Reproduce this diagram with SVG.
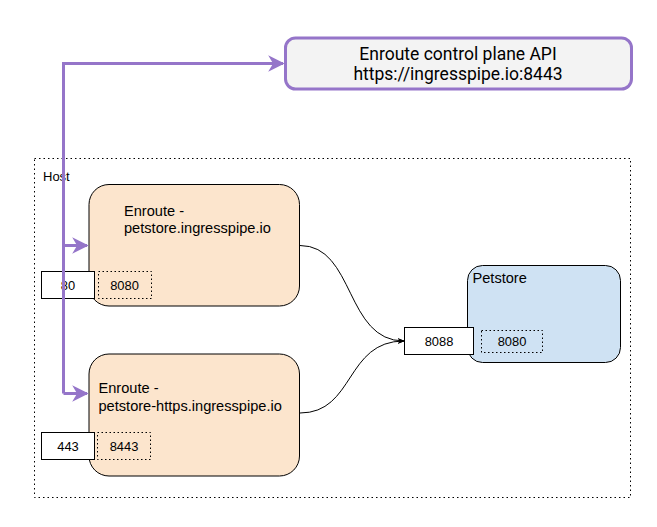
<svg xmlns="http://www.w3.org/2000/svg" width="657" height="527" viewBox="0 0 657 527">
<defs>
<style>
.lbl{font-family:"Liberation Sans",Arial,sans-serif;fill:#000;}
.port{fill:#fff;stroke:#000;stroke-width:1;}
.dport{fill:none;stroke:#000;stroke-width:1;stroke-dasharray:1.5 2.5;}
.pt{font-family:"Liberation Sans",Arial,sans-serif;font-size:12.9px;text-anchor:middle;fill:#000;}
.purple{fill:none;stroke:#9575c9;stroke-width:3;}
.curve{fill:none;stroke:#000;stroke-width:1;}
</style>
<marker id="pa" viewBox="0 0 10 10" refX="9" refY="5" markerWidth="5.5" markerHeight="5.5" orient="auto" markerUnits="strokeWidth">
<path d="M0,0 L10,5 L0,10 L3,5 Z" fill="#9575c9"/>
</marker>
<marker id="ba" viewBox="0 0 10 10" refX="9" refY="5" markerWidth="7" markerHeight="7" orient="auto" markerUnits="strokeWidth">
<path d="M0,1 L10,5 L0,9 L3,5 Z" fill="#000"/>
</marker>
</defs>
<rect width="657" height="527" fill="#fff"/>
<g id="host">
<rect x="34.5" y="158.5" width="596" height="339" fill="none" stroke="#000" stroke-width="1" stroke-dasharray="1.5 3"/>
<text class="lbl" x="43" y="181" font-size="13">Host</text>
</g>
<g id="api">
<rect x="285.5" y="38" width="346" height="51" rx="10" fill="#f3f3f3" stroke="#9575c9" stroke-width="3"/>
<text x="458" y="59.5" font-family="Roboto,'Liberation Sans',sans-serif" font-size="17.5" text-anchor="middle" fill="#000">Enroute control plane API</text>
<text x="458" y="80" font-family="Roboto,'Liberation Sans',sans-serif" font-size="17.5" text-anchor="middle" fill="#000">https://ingresspipe.io:8443</text>
</g>
<g id="enroute1">
<rect x="89" y="184.5" width="210.5" height="121.5" rx="20" fill="#fce5cd" stroke="#000" stroke-width="1"/>
<text class="lbl" x="124" y="215.5" font-size="14.6">Enroute -</text>
<text class="lbl" x="124" y="233" font-size="14.6">petstore.ingresspipe.io</text>
</g>
<g id="port80">
<rect class="port" x="41.5" y="271.5" width="53" height="27"/>
<text class="pt" x="68" y="289.5">80</text>
</g>
<g id="port8080a">
<rect class="dport" x="98.5" y="271.5" width="53" height="27"/>
<text class="pt" x="124.5" y="289.5">8080</text>
</g>
<g id="enroute2">
<rect x="89" y="354" width="210.5" height="122" rx="20" fill="#fce5cd" stroke="#000" stroke-width="1"/>
<text class="lbl" x="98.5" y="393" font-size="14.6">Enroute -</text>
<text class="lbl" x="98.5" y="411" font-size="14.6">petstore-https.ingresspipe.io</text>
</g>
<g id="port443">
<rect class="port" x="41.5" y="432.5" width="53" height="27"/>
<text class="pt" x="68" y="451">443</text>
</g>
<g id="port8443">
<rect class="dport" x="97.5" y="432.5" width="53" height="27"/>
<text class="pt" x="124" y="451">8443</text>
</g>
<g id="petstore">
<rect x="467.5" y="265.5" width="153" height="97" rx="15" fill="#cfe2f3" stroke="#000" stroke-width="1"/>
<text class="lbl" x="472.5" y="282.5" font-size="14.6">Petstore</text>
</g>
<g id="port8088">
<rect class="port" x="404.5" y="327.5" width="69" height="27"/>
<text class="pt" x="439" y="346">8088</text>
</g>
<g id="port8080b">
<rect class="dport" x="481.5" y="330.5" width="61" height="22"/>
<text class="pt" x="512" y="346">8080</text>
</g>
<g id="connectors">
<path class="curve" d="M300,245.5 C355,245.5 345,341 404,341" marker-end="url(#ba)"/>
<path class="curve" d="M300,413 C355,413 345,341 404,341" marker-end="url(#ba)"/>
<path class="purple" d="M63.5,393.5 L63.5,63.5 L283,63.5" marker-end="url(#pa)"/>
<path class="purple" d="M63.5,245.5 L87,245.5" marker-end="url(#pa)"/>
<path class="purple" d="M63.5,393.5 L87,393.5" marker-end="url(#pa)"/>
</g>
</svg>
